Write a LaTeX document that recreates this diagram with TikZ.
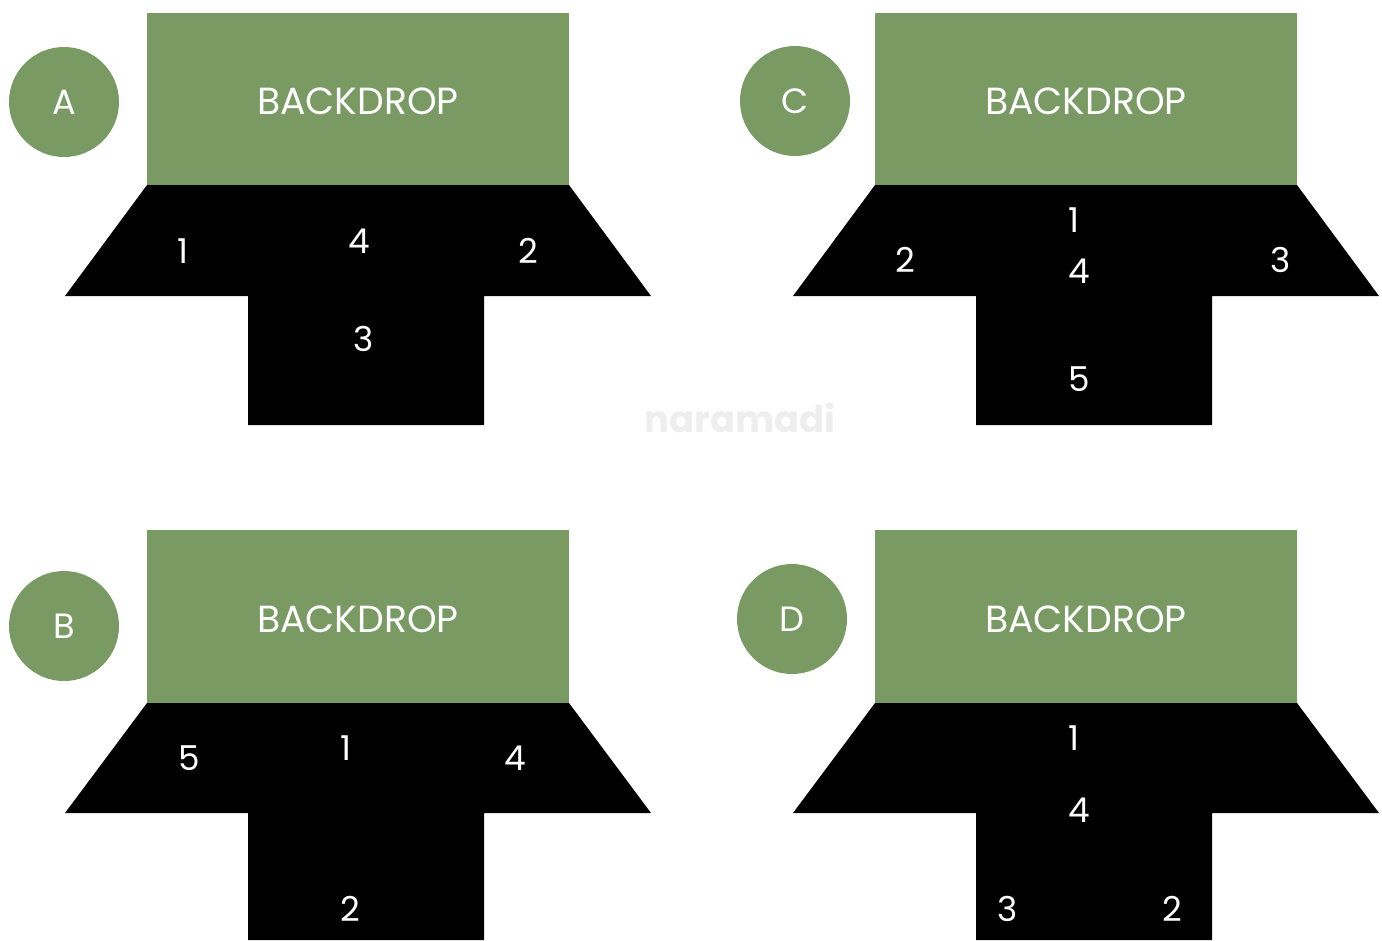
\documentclass[tikz,border=0pt]{standalone}
\usepackage{fontspec}
\setmainfont{Poppins}
\definecolor{sage}{RGB}{121,154,99}
\definecolor{wm}{RGB}{238,238,238}
\begin{document}
\begin{tikzpicture}[x=0.02cm,y=-0.02cm,
  backdrop/.style={fill=sage},
  stage/.style={fill=black},
  lbl/.style={text=white,font=\fontsize{19.5}{21}\selectfont,inner sep=0pt},
  badge/.style={circle,fill=sage,minimum size=110*0.02cm,inner sep=0pt,text=white,font=\fontsize{20}{22}\selectfont},
  bd/.style={text=white,font=\fontsize{21.5}{23}\selectfont,inner sep=0pt}]
\useasboundingbox (0,0) rectangle (1382,940);
% Panel A
\begin{scope}
\fill[backdrop] (147,13) rectangle (569,185);
\fill[stage] (147,185) -- (569,185) -- (651,296) -- (484,296) -- (484,425) -- (248,425) -- (248,296) -- (65,296) -- cycle;
\node[bd] (bdA) at (358,101) {BACKDROP};
\node[badge] (cA) at (64,102) {A};
\node[lbl] (a1) at (183,251) {1};
\node[lbl] (a4) at (359,241) {4};
\node[lbl] (a2) at (528,251) {2};
\node[lbl] (a3) at (364,339) {3};
\end{scope}
% Panel C
\begin{scope}[shift={(728,0)}]
\fill[backdrop] (147,13) rectangle (569,185);
\fill[stage] (147,185) -- (569,185) -- (651,296) -- (484,296) -- (484,425) -- (248,425) -- (248,296) -- (65,296) -- cycle;
\node[bd] (bdC) at (358,101) {BACKDROP};
\node[badge] (cC) at (67,101) {C};
\node[lbl] (c1) at (346,220) {1};
\node[lbl] (c2) at (177,260) {2};
\node[lbl] (c4) at (351,271) {4};
\node[lbl] (c3) at (553,260) {3};
\node[lbl] (c5) at (351,379) {5};
\end{scope}
% Panel B
\begin{scope}[shift={(0,517)}]
\fill[backdrop] (147,13) rectangle (569,186);
\fill[stage] (147,186) -- (569,186) -- (651,296) -- (484,296) -- (484,423) -- (248,423) -- (248,296) -- (65,296) -- cycle;
\node[bd] (bdB) at (358,102) {BACKDROP};
\node[badge] (cB) at (64,109) {B};
\node[lbl] (b5) at (189,241) {5};
\node[lbl] (b1) at (346,231) {1};
\node[lbl] (b4) at (515,241) {4};
\node[lbl] (b2) at (350,392) {2};
\end{scope}
% Panel D
\begin{scope}[shift={(728,517)}]
\fill[backdrop] (147,13) rectangle (569,186);
\fill[stage] (147,186) -- (569,186) -- (651,296) -- (484,296) -- (484,423) -- (248,423) -- (248,296) -- (65,296) -- cycle;
\node[bd] (bdD) at (358,102) {BACKDROP};
\node[badge] (cD) at (64,102) {D};
\node[lbl] (d1) at (346,221) {1};
\node[lbl] (d4) at (351,293) {4};
\node[lbl] (d3) at (280,392) {3};
\node[lbl] (d2) at (444,392) {2};
\end{scope}
% watermark
\node[text=wm,font=\fontsize{21}{22}\selectfont\bfseries,inner sep=0pt] (wmk) at (740,418) {naramadi};
\end{tikzpicture}
\end{document}
